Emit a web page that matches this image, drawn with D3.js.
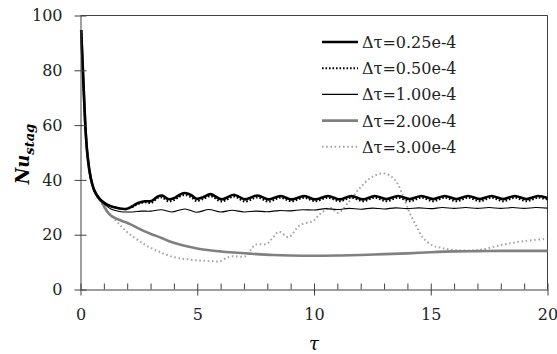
<!DOCTYPE html>
<html>
<head>
<meta charset="utf-8">
<script src="https://cdn.jsdelivr.net/npm/d3@7"></script>
<style>
  body { margin: 0; background: #fff; }
</style>
</head>
<body>
<div id="chart"></div>
<script>
// ---- data: [tau, Nu_stag] ----
const series025 = [[0.03,94.7],[0.06,88.5],[0.1,80.5],[0.15,70.5],[0.2,61],[0.25,54],[0.3,49],[0.4,42.5],[0.5,38.5],[0.6,36],[0.75,33.8],[0.9,32.4],[1.1,31.2],[1.3,30.4],[1.5,29.9],[1.75,29.5],[1.95,29.4],[2.2,30.3],[2.47,31.6],[2.75,32.2],[3.04,32.3],[3.32,34],[3.5,34.3],[3.75,33],[4.0,33.3],[4.25,34.6],[4.47,35.2],[4.75,34.4],[4.97,33.1],[5.25,33.7],[5.57,34.8],[6.04,32.9],[6.57,34.6],[7.04,32.9],[7.58,34.3],[8.04,32.9],[8.57,34.1],[9.04,32.9],[9.58,34.1],[10.05,32.9],[10.6,34.1],[11.1,32.9],[11.6,34.1],[12.1,32.9],[12.6,34.1],[13.1,33],[13.6,34.1],[14.1,33],[14.6,34.1],[15.1,33],[15.6,34.1],[16.1,33],[16.6,34.1],[17.1,33],[17.6,34.1],[18.1,33],[18.6,34.1],[19.1,33],[19.6,34.1],[20,33.4]];
const series050 = [[0.03,94.7],[0.06,88.5],[0.1,80.5],[0.15,70.5],[0.2,61],[0.25,54],[0.3,49],[0.4,42.5],[0.5,38.5],[0.6,36],[0.75,33.8],[0.9,32.4],[1.1,31.2],[1.3,30.4],[1.5,29.9],[1.75,29.5],[1.95,29.3],[2.2,30.0],[2.47,31.2],[2.75,31.8],[3.04,31.6],[3.32,33.5],[3.5,33.6],[3.75,32.2],[4.0,32.6],[4.25,33.9],[4.47,34.5],[4.75,33.6],[4.97,32.3],[5.25,33.0],[5.57,34.1],[6.04,32.1],[6.57,33.9],[7.04,32.1],[7.58,33.6],[8.04,32.1],[8.57,33.5],[9.04,32.2],[9.58,33.5],[10.05,32.2],[10.6,33.5],[11.1,32.2],[11.6,33.5],[12.1,32.2],[12.6,33.5],[13.1,32.2],[13.6,33.5],[14.1,32.2],[14.6,33.5],[15.1,32.2],[15.6,33.5],[16.1,32.2],[16.6,33.5],[17.1,32.2],[17.6,33.5],[18.1,32.2],[18.6,33.5],[19.1,32.2],[19.6,33.5],[20,32.8]];
const series100 = [[0.03,94.7],[0.06,88.5],[0.1,80.5],[0.15,70.5],[0.2,61],[0.25,54],[0.3,49],[0.4,42.5],[0.5,38.5],[0.6,36],[0.75,33.8],[0.9,32.2],[1.1,30.6],[1.3,29.4],[1.5,28.8],[1.75,28.4],[2.0,28.3],[2.25,28.3],[2.6,28.6],[3.0,28.6],[3.46,29.1],[3.9,28.3],[4.47,29.4],[4.97,28.2],[5.5,29.2],[6.0,28.3],[6.5,28.9],[7.0,28.3],[7.5,28.6],[8.0,28.4],[8.5,28.8],[9.0,28.7],[9.5,29.1],[10.0,29.0],[10.5,29.5],[11.0,29.2],[11.5,29.6],[12.0,29.3],[12.5,29.7],[13.0,29.4],[13.5,29.8],[14.0,29.5],[14.5,29.8],[15.0,29.5],[15.5,29.9],[16,29.6],[16.5,29.9],[17,29.6],[17.5,29.9],[18,29.6],[18.5,29.9],[19,29.6],[19.5,29.9],[20,29.7]];
const series200 = [[0.03,94.7],[0.06,88.5],[0.1,80.5],[0.15,70.5],[0.2,61],[0.25,54],[0.3,49],[0.4,42.5],[0.5,38.5],[0.6,36],[0.75,33.7],[0.9,32.1],[1.04,29.9],[1.2,27.8],[1.47,26.1],[1.75,25.1],[2.04,24.2],[2.4,22.7],[2.75,21.2],[3.1,20],[3.47,18.8],[3.8,17.6],[4.18,16.6],[4.6,15.7],[5.04,14.9],[5.53,14.3],[6.0,13.9],[6.4,13.6],[7.25,13.1],[8.25,12.6],[9.0,12.4],[10,12.3],[11,12.4],[12,12.6],[13,12.9],[14,13.2],[15,13.6],[16,13.9],[17,14.0],[18,14.1],[19,14.1],[20,14.1]];
const series300 = [[0.03,94.7],[0.06,88.5],[0.1,80.5],[0.15,70.5],[0.2,61],[0.25,54],[0.3,49],[0.4,42.3],[0.5,38.2],[0.6,35.6],[0.75,33.3],[0.9,31.4],[1.18,27.9],[1.4,26],[1.61,24.3],[1.8,22.5],[2.04,20.6],[2.4,18.4],[2.75,16.4],[3.1,14.8],[3.47,13.4],[3.8,12.3],[4.18,11.5],[4.6,11.0],[5.04,10.6],[5.5,10.4],[5.97,10.3],[6.25,11.5],[6.5,12.1],[7.1,12.2],[7.3,14.5],[7.5,16.4],[7.97,16.6],[8.2,18.5],[8.5,21.1],[8.9,19.1],[9.4,23.5],[9.96,25],[10.25,27.5],[10.7,29.8],[11.03,28],[11.46,31.6],[11.96,37],[12.53,41.3],[13.03,42.3],[13.46,40.1],[13.82,34],[14.1,27.9],[14.39,23.1],[14.67,18.8],[15.1,16],[15.4,15.3],[15.8,14.6],[16.7,14.2],[17.2,14.6],[18.1,16.4],[18.96,17.6],[19.96,18.5]];

const legendLabels = ['Δτ=0.25e-4', 'Δτ=0.50e-4', 'Δτ=1.00e-4', 'Δτ=2.00e-4', 'Δτ=3.00e-4'];
const xTicks = [0, 5, 10, 15, 20];
const xMinorTicks = [1, 2, 3, 4, 6, 7, 8, 9, 11, 12, 13, 14, 16, 17, 18, 19];
const yTicks = [0, 20, 40, 60, 80, 100];

const serif = '"DejaVu Serif", "Liberation Serif", serif';
const config = {
  width: 557, height: 354,
  left: 80.5, right: 547.5, top: 15.5, bottom: 289.5,
  axisColor: '#404040'
};

// line styles for each series
const styles = [
  { color: '#000', width: 2.6, dash: null },
  { color: '#000', width: 2, dash: '1.6,1.9' },
  { color: '#000', width: 1.1, dash: null },
  { color: '#808080', width: 2.6, dash: null },
  { color: '#a6a6a6', width: 2, dash: '1.6,2.6' }
];
const allSeries = [series025, series050, series100, series200, series300];

const svg = d3.select('#chart').append('svg')
  .attr('width', config.width)
  .attr('height', config.height);

const x = d3.scaleLinear().domain([0, 20]).range([config.left, config.right]);
const y = d3.scaleLinear().domain([0, 100]).range([config.bottom, config.top]);

// plot frame (top + right)
svg.append('path')
  .attr('d', `M${x(0)},${y(100)}H${x(20)}V${y(0)}`)
  .attr('fill', 'none')
  .attr('stroke', config.axisColor)
  .attr('stroke-width', 1);

// series
const line = d3.line()
  .x(d => x(d[0]))
  .y(d => y(d[1]))
  .curve(d3.curveCatmullRom.alpha(0.5));

// draw in reverse order so the black lines sit on top
const order = [4, 3, 2, 1, 0];
svg.selectAll('.series')
  .data(order)
  .join('path')
  .attr('class', 'series')
  .attr('d', i => line(allSeries[i]))
  .attr('fill', 'none')
  .attr('stroke', i => styles[i].color)
  .attr('stroke-width', i => styles[i].width)
  .attr('stroke-dasharray', i => styles[i].dash)
  .attr('stroke-linejoin', 'round');

// y axis, ticks crossing the line
const axisY = svg.append('g')
  .attr('transform', `translate(${x(0)},0)`)
  .call(d3.axisLeft(y).tickValues(yTicks).tickSize(6).tickSizeOuter(0).tickPadding(12));
axisY.selectAll('.tick line').attr('x1', 6);

// x axis major ticks, crossing
const axisX = svg.append('g')
  .attr('transform', `translate(0,${y(0)})`)
  .call(d3.axisBottom(x).tickValues(xTicks).tickSize(6).tickSizeOuter(0).tickPadding(13));
axisX.selectAll('.tick line').attr('y1', -6);

// minor ticks pointing inward
svg.append('g')
  .attr('transform', `translate(0,${y(0)})`)
  .call(d3.axisBottom(x).tickValues(xMinorTicks).tickSize(-6).tickSizeOuter(0).tickFormat(''))
  .call(g => g.select('.domain').remove());

svg.selectAll('g').attr('font-family', serif);

svg.selectAll('.domain, .tick line')
  .attr('stroke', config.axisColor)
  .attr('stroke-width', 1);

svg.selectAll('.tick text')
  .attr('font-family', serif)
  .attr('font-size', 16)
  .attr('fill', '#222');

// axis titles
svg.append('text')
  .attr('x', x(10))
  .attr('y', 350)
  .attr('text-anchor', 'middle')
  .attr('font-family', serif)
  .attr('font-size', 18)
  .attr('font-style', 'italic')
  .text('τ');

const yTitle = svg.append('text')
  .attr('transform', 'translate(29,154) rotate(-90)')
  .attr('text-anchor', 'middle')
  .attr('font-family', serif)
  .attr('font-weight', 'bold')
  .attr('font-style', 'italic');
yTitle.append('tspan').attr('font-size', 18).text('Nu');
yTitle.append('tspan').attr('dy', 5).attr('font-size', 13).text('stag');

// legend
const legend = svg.append('g').attr('class', 'legend');
const rowY = i => 42 + i * 26.2;
legend.selectAll('.legend-line')
  .data(d3.range(5))
  .join('line')
  .attr('class', 'legend-line')
  .attr('x1', 322)
  .attr('x2', 358)
  .attr('y1', rowY)
  .attr('y2', rowY)
  .attr('stroke', i => styles[i].color)
  .attr('stroke-width', i => styles[i].width)
  .attr('stroke-dasharray', i => styles[i].dash);

legend.selectAll('.legend-text')
  .data(legendLabels)
  .join('text')
  .attr('class', 'legend-text')
  .attr('x', 362)
  .attr('y', (d, i) => rowY(i) + 6)
  .attr('font-family', serif)
  .attr('font-size', 16)
  .attr('fill', '#222')
  .text(d => d);
</script>
</body>
</html>
